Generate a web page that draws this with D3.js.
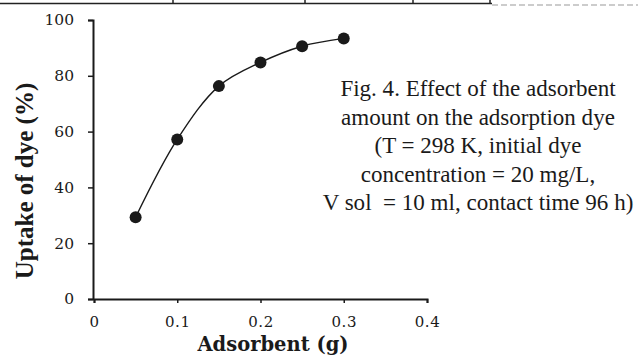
<!DOCTYPE html>
<html>
<head>
<meta charset="utf-8">
<script src="https://cdn.jsdelivr.net/npm/d3@7"></script>
<style>
  html, body { margin: 0; padding: 0; background: #fff; }
  svg { display: block; }
</style>
</head>
<body>
<svg id="chart" width="638" height="358"></svg>
<script>
// Adsorbent dose (g) and dye uptake (%)
const adsorbent = [0.05, 0.10, 0.15, 0.20, 0.25, 0.30];
const uptake = [29.3, 57.2, 76.3, 84.8, 90.6, 93.4];
const xTicks = [0, 0.1, 0.2, 0.3, 0.4];
const yTicks = [0, 20, 40, 60, 80, 100];
const captionLines = [
  "Fig. 4. Effect of the adsorbent",
  "amount on the adsorption dye",
  "(T = 298 K, initial dye",
  "concentration = 20 mg/L,",
  "V sol \u00a0= 10 ml, contact time 96 h)"
];

const svg = d3.select("#chart");
const ink = "#1a1a1a";
const wideSerif = "'DejaVu Serif', Georgia, serif";
const timesLike = "'Liberation Serif', 'Times New Roman', serif";

const x = d3.scaleLinear().domain([0, 0.4]).range([94, 427]);
const y = d3.scaleLinear().domain([0, 100]).range([299, 20]);

// rule across the top edge (bottom of a table above the figure)
const topRule = svg.append("g").attr("stroke", "#222").attr("stroke-width", 1.5);
topRule.append("line").attr("x1", 0).attr("x2", 492).attr("y1", 3.5).attr("y2", 3.5);
[173, 305, 413, 490].forEach(v =>
  topRule.append("line").attr("x1", v).attr("x2", v).attr("y1", 0).attr("y2", 4));
svg.append("line").attr("x1", 492).attr("x2", 638).attr("y1", 5).attr("y2", 5)
  .attr("stroke", "#999").attr("stroke-width", 1).attr("stroke-dasharray", "6,3");

// y axis
const yAxis = svg.append("g")
  .attr("transform", `translate(${x(0) - 1},0)`)
  .call(d3.axisLeft(y).tickValues(yTicks).tickFormat(d3.format("d")).tickSizeOuter(0).tickSize(5).tickPadding(14));
yAxis.select(".domain").attr("stroke", ink).attr("stroke-width", 2);
yAxis.selectAll(".tick line").attr("stroke", ink).attr("stroke-width", 1.5);
yAxis.selectAll(".tick text")
  .attr("fill", ink)
  .style("font-family", wideSerif)
  .style("font-size", "15.5px");

// x axis
const xAxis = svg.append("g")
  .attr("transform", `translate(0,${y(0)})`)
  .call(d3.axisBottom(x).tickValues(xTicks).tickFormat(d => d === 0 ? "0" : d3.format(".1f")(d)).tickSizeOuter(0).tickSize(4).tickPadding(13));
xAxis.select(".domain").attr("stroke", ink).attr("stroke-width", 2);
xAxis.selectAll(".tick line").attr("stroke", ink).attr("stroke-width", 1.5);
xAxis.selectAll(".tick text")
  .attr("fill", ink)
  .style("font-family", wideSerif)
  .style("font-size", "15px")
  .style("letter-spacing", "0.5px");

// axis titles
svg.append("text")
  .attr("x", 273).attr("y", 351)
  .attr("text-anchor", "middle")
  .attr("fill", ink)
  .style("font-family", wideSerif)
  .style("font-weight", "bold")
  .style("font-size", "19.5px")
  .text("Adsorbent (g)");

svg.append("text")
  .attr("transform", "translate(33,181) rotate(-90)")
  .attr("text-anchor", "middle")
  .attr("fill", ink)
  .style("font-family", timesLike)
  .style("font-weight", "bold")
  .style("font-size", "25px")
  .text("Uptake of dye (%)");

// smoothed curve through the measurements
const pts = adsorbent.map((a, i) => [a, uptake[i]]);
svg.append("path")
  .datum(pts)
  .attr("fill", "none")
  .attr("stroke", ink)
  .attr("stroke-width", 1.4)
  .attr("d", d3.line().x(d => x(d[0])).y(d => y(d[1])).curve(d3.curveCatmullRom.alpha(0.5)));

svg.append("g").selectAll("circle")
  .data(pts)
  .join("circle")
  .attr("cx", d => x(d[0]))
  .attr("cy", d => y(d[1]))
  .attr("r", 6)
  .attr("fill", ink);

// caption block
const cap = svg.append("g")
  .attr("transform", "translate(478,0)")
  .style("font-family", timesLike)
  .style("font-size", "24px")
  .attr("fill", ink);
cap.selectAll("text")
  .data(captionLines)
  .join("text")
  .attr("text-anchor", "middle")
  .attr("transform", (d, i) => `translate(0,${96 + i * 28.5}) scale(0.96,1)`)
  .text(d => d);
</script>
</body>
</html>
